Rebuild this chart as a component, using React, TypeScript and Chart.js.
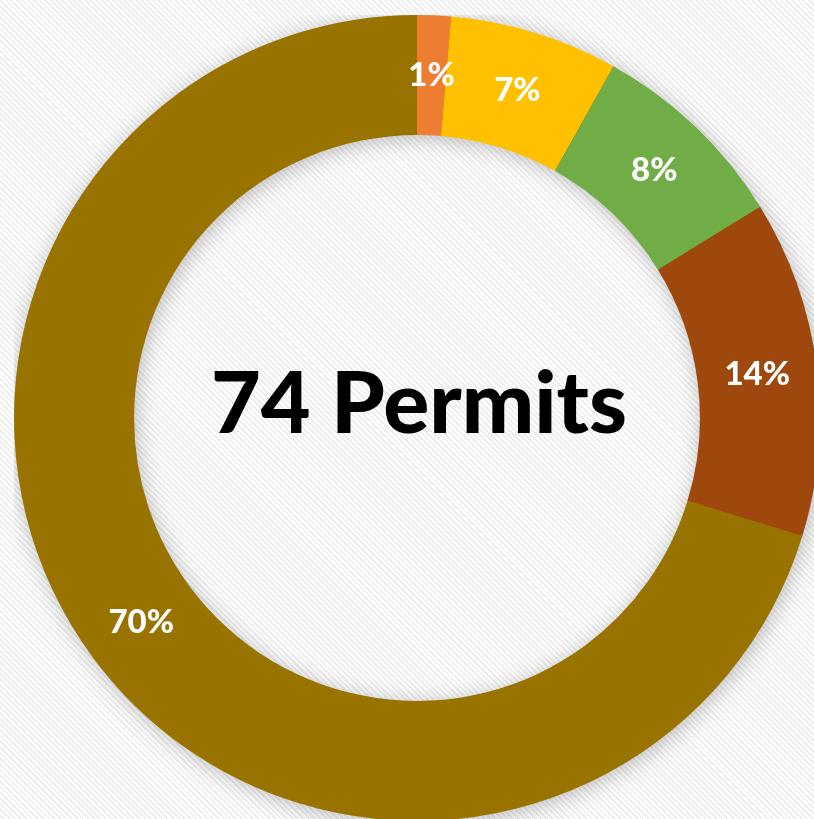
import React, { useEffect, useRef } from "react";
import { Chart, registerables } from "chart.js";

Chart.register(...registerables);

const categories = ["Category A", "Category B", "Category C", "Category D", "Category E"];
const permitCounts = [1, 5, 6, 10, 52];
const percentLabels = ["1%", "7%", "8%", "14%", "70%"];
const sliceColors = ["#ED7D31", "#FFC000", "#70AD47", "#9E480E", "#997300"];
const centerText = "74 Permits";

const shadowRing = {
  id: "shadowRing",
  beforeDatasetsDraw(chart: any) {
    const meta = chart.getDatasetMeta(0);
    const arc = meta.data[0];
    if (!arc) return;
    const { x, y, innerRadius, outerRadius } = arc.getProps(["x", "y", "innerRadius", "outerRadius"], true);
    const ctx = chart.ctx;
    ctx.save();
    ctx.shadowColor = "rgba(0,0,0,0.28)";
    ctx.shadowBlur = 22;
    ctx.shadowOffsetX = 2;
    ctx.shadowOffsetY = 3;
    ctx.fillStyle = "#997300";
    ctx.beginPath();
    ctx.arc(x, y, outerRadius - 1, 0, Math.PI * 2);
    ctx.arc(x, y, innerRadius + 1, 0, Math.PI * 2, true);
    ctx.closePath();
    ctx.fill();
    ctx.restore();
  },
};

const labelsPlugin = {
  id: "sliceLabels",
  afterDatasetsDraw(chart: any) {
    const ctx = chart.ctx;
    const meta = chart.getDatasetMeta(0);
    ctx.save();
    ctx.fillStyle = "#ffffff";
    ctx.font = "900 33px Lato";
    ctx.textAlign = "center";
    ctx.textBaseline = "middle";
    meta.data.forEach((arc: any, i: number) => {
      const p = arc.tooltipPosition(false);
      ctx.fillText(percentLabels[i], p.x, p.y);
    });
    const first = meta.data[0];
    if (first) {
      ctx.fillStyle = "#000000";
      ctx.font = "900 86px Lato";
      ctx.textBaseline = "alphabetic";
      ctx.fillText(centerText, first.x + 2, first.y + 15);
    }
    ctx.restore();
  },
};

export default function App() {
  const ref = useRef<HTMLCanvasElement | null>(null);
  useEffect(() => {
    if (!ref.current) return;
    const chart = new Chart(ref.current, {
      type: "doughnut",
      data: {
        labels: categories,
        datasets: [
          {
            data: permitCounts,
            backgroundColor: sliceColors,
            borderWidth: 0,
          },
        ],
      },
      options: {
        animation: false,
        responsive: false,
        maintainAspectRatio: false,
        cutout: "70.2%",
        layout: { padding: 0 },
        plugins: {
          legend: { display: false },
          tooltip: { enabled: false },
        },
      },
      plugins: [shadowRing, labelsPlugin],
    });
    return () => chart.destroy();
  }, []);

  return (
    <div
      style={{
        position: "fixed",
        left: 0,
        top: 0,
        width: 814,
        height: 819,
        overflow: "hidden",
        background:
          "repeating-linear-gradient(45deg, #ffffff 0px, #ffffff 2px, #eeeeee 2px, #eeeeee 4px)",
      }}
    >
      <canvas
        ref={ref}
        width={806}
        height={806}
        style={{ position: "absolute", left: 14, top: 15, width: 806, height: 806 }}
      />
    </div>
  );
}
